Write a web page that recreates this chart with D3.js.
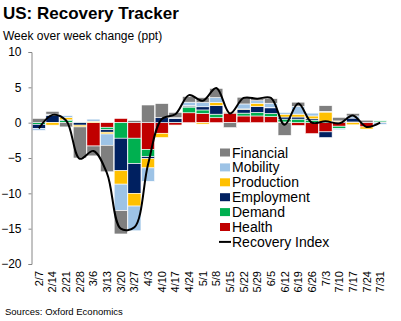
<!DOCTYPE html>
<html>
<head>
<meta charset="utf-8">
<script src="https://cdn.jsdelivr.net/npm/d3@7"></script>
<style>
  body { margin: 0; background: #fff; }
  svg { display: block; font-family: "Liberation Sans", Arial, sans-serif; }
</style>
</head>
<body>
<svg id="chart" width="401" height="321"></svg>
<script>
const weeks = ["2/7","2/14","2/21","2/28","3/6","3/13","3/20","3/27","4/3","4/10","4/17","4/24","5/1","5/8","5/15","5/22","5/29","6/5","6/12","6/19","6/26","7/3","7/10","7/17","7/24","7/31"];
const health     = [0, 0, 0, 0, -3.3, -0.65, 0.6, -2.2, -3.8, -1.5, -0.35, 1.4, 1.3, 0.7, 1.35, 0.95, 0.95, 0.85, 0.1, -0.4, -1.55, -1.3, -0.5, 0.1, -0.6, 0.1];
const demand     = [-0.25, 0.05, 0.35, 0.1, 0, -0.35, -2.2, -3.6, -1.0, 0, 0.05, 0.8, 0.5, 0.5, 0.1, 0.4, 0.5, 0.45, 0.4, 0.5, 0.35, 0.2, -0.3, 0, 0, 0.15];
const employment = [-0.55, 1.0, 0.05, -0.35, 0, -0.35, -4.6, -4.2, -0.3, 0.7, 0.55, 0.15, 0.45, 1.2, 0.05, 0.55, 0.85, 0.8, 0.3, 0.3, 0.2, -0.8, 0.15, 0.55, 0, 0];
const production = [0, -0.35, 0.35, -0.25, 0.2, -0.25, -1.9, -1.8, -1.3, -0.6, -0.1, 0.05, -0.2, 0.45, 0.1, 0.05, 0.45, 0.05, 0.4, 0.4, 0.4, 1.3, 0.1, -0.3, -0.3, 0];
const mobility   = [-0.3, 0.15, 0.25, 0.05, 0.3, -1.6, -3.75, -3.5, -1.9, 0, 0.1, 0.5, 0.6, 0.7, 0, 0.7, 0.35, 0.6, 0.25, 1.1, 0.4, 0.1, -0.2, 0.3, 0, -0.25];
const financial  = [0.6, 0.4, -0.6, -4.4, -1.4, -3.75, -3.3, 0.3, 2.5, 2.0, 0.75, 0.8, 0.7, 1.3, -0.7, 0.95, 0.3, 0.65, -1.8, 0.6, 0, 0.8, 0.5, 0.35, 0.35, 0];
const recoveryIndex = [-0.8, 1.1, 0.3, -5.1, -4.0, -7.2, -15.0, -14.8, -5.9, 0.5, 1.2, 3.9, 3.1, 4.9, 1.3, 3.5, 3.4, 3.5, -0.3, 2.7, 0.0, 0.2, -0.1, 1.0, -0.6, 0.0];
const yTicks = [10, 5, 0, -5, -10, -15, -20];

const seriesNames = ["Health","Demand","Employment","Production","Mobility","Financial"];
const seriesValues = {Health: health, Demand: demand, Employment: employment, Production: production, Mobility: mobility, Financial: financial};
const colors = {Health: "#c00000", Demand: "#00b050", Employment: "#002060", Production: "#ffc000", Mobility: "#9dc3e6", Financial: "#7f7f7f"};
const legendOrder = ["Financial","Mobility","Production","Employment","Demand","Health"];

const rows = weeks.map((w, i) => {
  const r = {week: w};
  seriesNames.forEach(s => r[s] = seriesValues[s][i]);
  return r;
});

const svg = d3.select("#chart");
const x = d3.scaleBand().domain(weeks).range([32, 387]).paddingInner(0.04).paddingOuter(0.02);
const y = d3.scaleLinear().domain([-20, 10]).range([264, 52]);

// title
svg.append("text").attr("x", 3).attr("y", 18.5).attr("font-size", 17).attr("font-weight", "bold").attr("fill", "#000").text("US: Recovery Tracker");
svg.append("text").attr("x", 3).attr("y", 39.5).attr("font-size", 12).attr("fill", "#000").text("Week over week change (ppt)");

// bars
const stack = d3.stack().keys(seriesNames).offset(d3.stackOffsetDiverging);
const stacked = stack(rows);
svg.append("g").selectAll("g").data(stacked).join("g")
  .attr("fill", d => colors[d.key])
  .selectAll("rect").data(d => d).join("rect")
  .attr("x", d => x(d.data.week))
  .attr("width", x.bandwidth())
  .attr("y", d => y(Math.max(d[0], d[1])))
  .attr("height", d => Math.abs(y(d[0]) - y(d[1])))
  .attr("stroke", "#fff").attr("stroke-width", 0.6);

// y axis
const yAxis = d3.axisLeft(y).tickValues(yTicks).tickSize(3).tickPadding(7).tickFormat(d3.format("d"));
const gy = svg.append("g").attr("transform", "translate(31.5,0)").call(yAxis);
gy.select(".domain").attr("stroke", "#868686");
gy.selectAll(".tick line").attr("stroke", "#868686");
gy.selectAll(".tick text").attr("font-size", 12).attr("fill", "#000").attr("font-family", "Liberation Sans, Arial, sans-serif");

// x labels
svg.append("g").selectAll("text").data(weeks).join("text")
  .attr("transform", d => `translate(${x(d) + x.bandwidth() / 2 + 4},271) rotate(-90)`)
  .attr("text-anchor", "end")
  .attr("font-size", 11)
  .attr("fill", "#000")
  .text(d => d);

// recovery index line
const line = d3.line()
  .x((d, i) => x(weeks[i]) + x.bandwidth() / 2)
  .y(d => y(d))
  .curve(d3.curveCatmullRom.alpha(0.5));
svg.append("path").datum(recoveryIndex).attr("d", line)
  .attr("fill", "none").attr("stroke", "#000").attr("stroke-width", 2);

// legend
const lg = svg.append("g");
legendOrder.forEach((s, i) => {
  const cy = 152.5 + i * 14.9;
  lg.append("rect").attr("x", 220).attr("y", cy - 4).attr("width", 10).attr("height", 8).attr("fill", colors[s]);
  lg.append("text").attr("x", 232).attr("y", cy + 5).attr("font-size", 14).attr("fill", "#000").text(s);
});
const ly = 152.5 + 6 * 14.9;
lg.append("line").attr("x1", 219).attr("x2", 231).attr("y1", ly).attr("y2", ly).attr("stroke", "#000").attr("stroke-width", 2);
lg.append("text").attr("x", 232).attr("y", ly + 5).attr("font-size", 14).attr("fill", "#000").text("Recovery Index");

// source
svg.append("text").attr("x", 5).attr("y", 315).attr("font-size", 9.5).attr("fill", "#000").text("Sources: Oxford Economics");
</script>
</body>
</html>
